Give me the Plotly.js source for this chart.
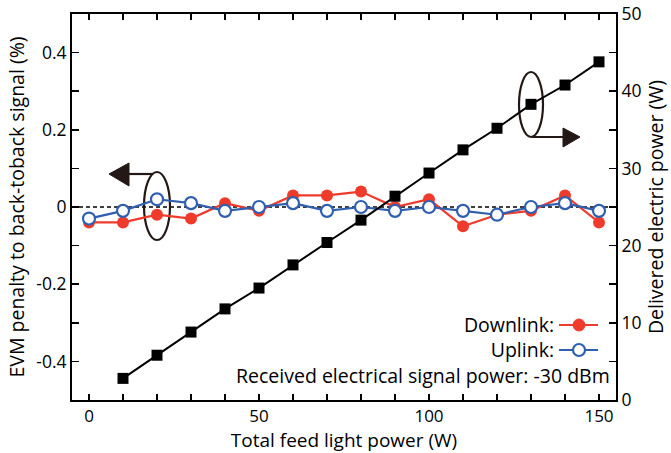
<!DOCTYPE html>
<html><head><meta charset="utf-8">
<script src="https://cdn.plot.ly/plotly-3.0.1.min.js"></script>
<style>html,body{margin:0;padding:0;background:#fff}#chart{width:671px;height:453px}</style>
</head><body><div id="chart"></div>
<script>
const feedPowerAll = [0,10,20,30,40,50,60,70,80,90,100,110,120,130,140,150];
const downlinkEVM = [-0.04,-0.04,-0.02,-0.03,0.01,-0.01,0.03,0.03,0.04,0,0.02,-0.05,-0.02,-0.01,0.03,-0.04];
const uplinkEVM   = [-0.03,-0.01,0.02,0.01,-0.01,0,0.01,-0.01,0,-0.01,0,-0.01,-0.02,0,0.01,-0.01];
const feedPowerDelivered = [10,20,30,40,50,60,70,80,90,100,110,120,130,140,150];
const deliveredPower = [2.8,5.8,8.8,11.8,14.5,17.5,20.4,23.3,26.4,29.4,32.4,35.2,38.3,40.8,43.8];
const xTickVals = [0,50,100,150];
const legendLabels = ['Downlink:', 'Uplink:'];
const conditionText = 'Received electrical signal power: -30 dBm';

const FONT = '"Open Sans", sans-serif';
const RED = '#ef3b2c', BLUE = '#2f5fae', DARK = '#231815';

const traces = [
  {x: feedPowerDelivered, y: deliveredPower, yaxis: 'y2', mode: 'lines+markers',
   line: {color: '#000', width: 2}, marker: {symbol: 'square', size: 11, color: '#000'}, showlegend: false},
  {x: feedPowerAll, y: downlinkEVM, mode: 'lines+markers', name: 'Downlink',
   line: {color: RED, width: 2.2}, marker: {symbol: 'circle', size: 12, color: RED}, showlegend: false},
  {x: feedPowerAll, y: uplinkEVM, mode: 'lines+markers', name: 'Uplink',
   line: {color: BLUE, width: 2.2}, marker: {symbol: 'circle', size: 12, color: '#fff', line: {color: BLUE, width: 2.2}}, showlegend: false}
];

const X = px => (px - 72) / 544;
const Y = py => (400 - py) / 386;
const PAD = '\u00A0'.repeat(11);

const shapes = [
  {type: 'line', xref: 'paper', yref: 'y', x0: 0, x1: 1, y0: 0, y1: 0, line: {color: '#000', width: 1.3, dash: '4px,3px'}, layer: 'below'},
  {type: 'circle', xref: 'paper', yref: 'paper', x0: X(144), x1: X(170), y0: Y(240), y1: Y(172), line: {color: DARK, width: 2.2}, layer: 'below'},
  {type: 'line', xref: 'paper', yref: 'paper', x0: X(127), x1: X(153), y0: Y(174), y1: Y(174), line: {color: DARK, width: 2.2}},
  {type: 'path', xref: 'paper', yref: 'paper', path: `M ${X(109)} ${Y(174)} L ${X(129)} ${Y(163)} L ${X(129)} ${Y(186)} Z`, fillcolor: DARK, line: {color: DARK, width: 1}},
  {type: 'circle', xref: 'paper', yref: 'paper', x0: X(519), x1: X(543), y0: Y(137), y1: Y(72), line: {color: DARK, width: 2.2}, layer: 'below'},
  {type: 'line', xref: 'paper', yref: 'paper', x0: X(532), x1: X(565), y0: Y(137), y1: Y(137), line: {color: DARK, width: 2.2}},
  {type: 'path', xref: 'paper', yref: 'paper', path: `M ${X(580)} ${Y(137)} L ${X(563)} ${Y(128)} L ${X(563)} ${Y(147)} Z`, fillcolor: DARK, line: {color: DARK, width: 1}},
  {type: 'line', xref: 'paper', yref: 'paper', x0: X(559), x1: X(598), y0: Y(325), y1: Y(325), line: {color: RED, width: 2.2}},
  {type: 'circle', xref: 'paper', yref: 'paper', xsizemode: 'pixel', ysizemode: 'pixel', xanchor: X(579), yanchor: Y(325), x0: -6, x1: 6, y0: -6, y1: 6, fillcolor: RED, line: {color: RED, width: 1}},
  {type: 'line', xref: 'paper', yref: 'paper', x0: X(559), x1: X(598), y0: Y(350), y1: Y(350), line: {color: BLUE, width: 2.2}},
  {type: 'circle', xref: 'paper', yref: 'paper', xsizemode: 'pixel', ysizemode: 'pixel', xanchor: X(579), yanchor: Y(350), x0: -6, x1: 6, y0: -6, y1: 6, fillcolor: '#fff', line: {color: BLUE, width: 2.2}}
];

const annotations = [
  {xref: 'paper', yref: 'paper', x: X(612), y: Y(350), xanchor: 'right', yanchor: 'middle', align: 'right',
   text: legendLabels[0] + PAD + '<br>' + legendLabels[1] + PAD + '<br>' + conditionText,
   showarrow: false, font: {family: FONT, size: 19.5, color: '#000'}}
];

const layout = {
  width: 671, height: 453,
  margin: {l: 72, r: 55, t: 14, b: 53},
  paper_bgcolor: '#fff', plot_bgcolor: '#fff',
  font: {family: FONT, size: 17, color: '#000'},
  showlegend: false,
  xaxis: {
    range: [-5, 155], tickvals: xTickVals, ticks: 'inside', ticklen: 6, tickwidth: 1.5, tickcolor: '#000',
    minor: {dtick: 10, tick0: 0, ticks: 'inside', ticklen: 6, tickwidth: 1.5, tickcolor: '#000', showgrid: false},
    showline: true, linecolor: '#000', linewidth: 2, mirror: 'allticks', showgrid: false, zeroline: false,
    tickfont: {family: FONT, size: 17}, ticklabelstandoff: 0,
    title: {text: 'Total feed light power (W)', font: {family: FONT, size: 19}, standoff: 4}
  },
  yaxis: {
    range: [-0.5, 0.5], tickvals: [-0.4, -0.2, 0, 0.2, 0.4], ticktext: ['-0.4', '-0.2', '0', '0.2', '0.4'],
    ticks: 'inside', ticklen: 7, tickwidth: 1.5, tickcolor: '#000',
    minor: {tickvals: [-0.3, -0.1, 0.1, 0.3], ticks: 'inside', ticklen: 7, tickwidth: 1.5, tickcolor: '#000', showgrid: false},
    showline: true, linecolor: '#000', linewidth: 2, showgrid: false, zeroline: false,
    tickfont: {family: FONT, size: 17.5},
    title: {text: 'EVM penalty to back-toback signal (%)', font: {family: FONT, size: 19.5}, standoff: 6}
  },
  yaxis2: {
    overlaying: 'y', side: 'right', range: [0, 50], dtick: 10, tick0: 0,
    ticks: 'inside', ticklen: 7, tickwidth: 1.5, tickcolor: '#000',
    minor: {dtick: 5, ticks: 'inside', ticklen: 7, tickwidth: 1.5, tickcolor: '#000', showgrid: false},
    showline: true, linecolor: '#000', linewidth: 2, showgrid: false, zeroline: false,
    tickfont: {family: FONT, size: 17.5},
    title: {text: 'Delivered electric power (W)', font: {family: FONT, size: 19.5}, standoff: 4}
  },
  shapes: shapes,
  annotations: annotations
};

Plotly.newPlot('chart', traces, layout, {displayModeBar: false, staticPlot: true});
</script>
</body></html>
